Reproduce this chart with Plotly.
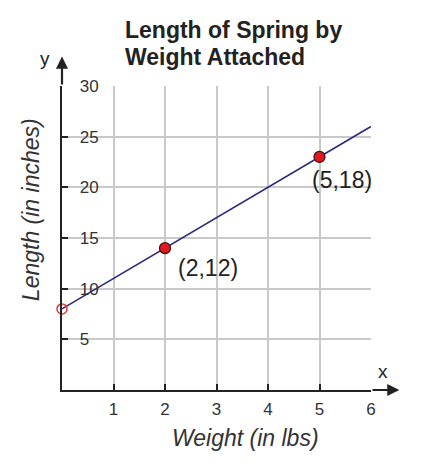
import plotly.graph_objects as go

# Data
line_x = [0, 6]
line_y = [8, 26]
point_x = [2, 5]
point_y = [14, 23]
point_labels = ["(2,12)", "(5,18)"]
open_x = [0]
open_y = [8]
x_ticks = [1, 2, 3, 4, 5, 6]
y_ticks = [5, 10, 15, 20, 25, 30]
title_lines = ["Length of Spring by", "Weight Attached"]

FONT = "Liberation Sans, Arial, sans-serif"

fig = go.Figure()
fig.add_trace(go.Scatter(x=line_x, y=line_y, mode="lines",
                         line=dict(color="#2d2a7e", width=1.6), cliponaxis=False,
                         hoverinfo="skip"))
fig.add_trace(go.Scatter(x=open_x, y=open_y, mode="markers", cliponaxis=False,
                         marker=dict(size=10, color="rgba(255,255,255,0)",
                                     line=dict(color="#e8343a", width=1.5))))
fig.add_trace(go.Scatter(x=point_x, y=point_y, mode="markers", cliponaxis=False,
                         marker=dict(size=11, color="#e0191f",
                                     line=dict(color="#3a1010", width=1.2))))

# point labels
label_offsets = [(0.83, -2.0), (0.44, -2.3)]
for (px, py), lab, (dx, dy) in zip(zip(point_x, point_y), point_labels, label_offsets):
    fig.add_annotation(x=px + dx, y=py + dy, text=lab, showarrow=False,
                       xanchor="center", yanchor="middle",
                       font=dict(family=FONT, size=23, color="#222"))

# axis arrows
fig.add_annotation(x=6.55, y=0, ax=6.0, ay=0, axref="x", ayref="y", xref="x", yref="y",
                   showarrow=True, arrowhead=2, arrowsize=1.1, arrowwidth=2.2,
                   arrowcolor="#222", text="")
fig.add_annotation(x=0, y=32.9, ax=0, ay=30, axref="x", ayref="y", xref="x", yref="y",
                   showarrow=True, arrowhead=2, arrowsize=1.1, arrowwidth=2.2,
                   arrowcolor="#222", text="")
fig.add_annotation(x=1.039, y=0.0625, xref="paper", yref="paper", text="x", showarrow=False,
                   xanchor="center", yanchor="middle",
                   font=dict(family=FONT, size=19, color="#222"))
fig.add_annotation(x=-0.055, y=1.092, xref="paper", yref="paper", text="y", showarrow=False,
                   xanchor="center", yanchor="middle",
                   font=dict(family=FONT, size=19, color="#222"))

# axis titles
fig.add_annotation(x=0.594, y=-0.158, xref="paper", yref="paper",
                   text="<i>Weight (in lbs)</i>", showarrow=False,
                   xanchor="center", yanchor="middle",
                   font=dict(family=FONT, size=23, color="#333"))
fig.add_annotation(x=-0.100, y=0.592, xref="paper", yref="paper",
                   text="<i>Length (in inches)</i>", showarrow=False,
                   xanchor="center", yanchor="middle",
                   textangle=-90, font=dict(family=FONT, size=23, color="#333"))

# title (two lines)
for line, yy in zip(title_lines, [1.184, 1.094]):
    fig.add_annotation(x=0.197, y=yy, xref="paper", yref="paper", xanchor="left",
                       yanchor="middle", align="left", showarrow=False,
                       text="<b>" + line + "</b>",
                       font=dict(family=FONT, size=23, color="#222"))

fig.update_layout(
    width=436, height=469,
    margin=dict(l=62, r=65, t=86, b=79),
    plot_bgcolor="white", paper_bgcolor="white",
    showlegend=False,
    xaxis=dict(range=[0, 6], tickvals=x_ticks, showgrid=True, gridcolor="#c9c9c9",
               gridwidth=1.5, zeroline=False, showline=True, linecolor="#222",
               linewidth=2.2, ticks="inside", ticklen=6, tickwidth=2, tickcolor="#222",
               tickfont=dict(family=FONT, size=17, color="#333"),
               ticklabelstandoff=2, fixedrange=True),
    yaxis=dict(range=[0, 30], tickvals=y_ticks, showgrid=True, gridcolor="#c9c9c9",
               gridwidth=1.5, zeroline=False, showline=True, linecolor="#222",
               linewidth=2.2, ticks="inside", ticklen=6, tickwidth=2, tickcolor="#222",
               ticklabelposition="inside", ticklabelstandoff=12, ticklabeloverflow="allow",
               tickfont=dict(family=FONT, size=17, color="#333"), fixedrange=True),
)

fig.write_html("out.html", config={"displayModeBar": False},
               post_script="document.body.style.margin='0';")
